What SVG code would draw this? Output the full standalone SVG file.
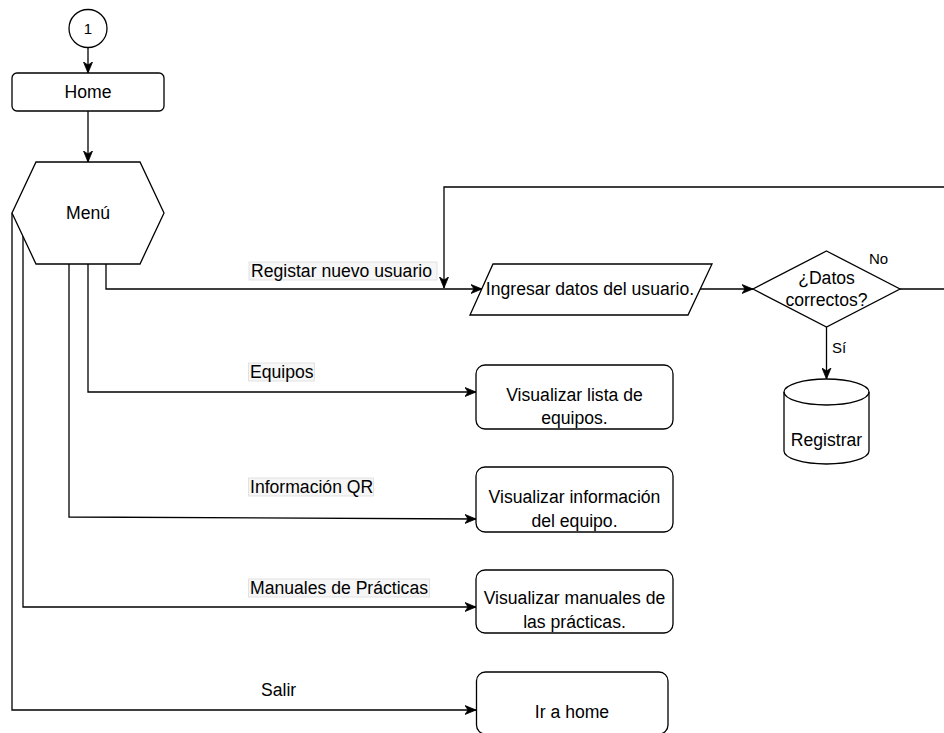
<svg xmlns="http://www.w3.org/2000/svg" width="944" height="733" viewBox="0 0 944 733">
  <style>
    .shape { fill: #ffffff; stroke: #000000; stroke-width: 1.3; }
    .edge { fill: none; stroke: #000000; stroke-width: 1.3; }
    .t { font-family: "Liberation Sans", Arial, sans-serif; font-size: 17.6px; fill: #000000; dominant-baseline: central; }
    .c { text-anchor: middle; }
    .small { font-size: 15px; }
    .lblbg { fill: #f6f6f6; stroke: #dcdcdc; stroke-width: 0.8; }
  </style>
  <defs>
    <marker id="arrow" markerUnits="userSpaceOnUse" markerWidth="12" markerHeight="10" refX="11" refY="5" orient="auto">
      <path d="M0,0.5 L11,5 L0,9.5 L3,5 Z" fill="#000000" stroke="#000000" stroke-width="0.8"/>
    </marker>
  </defs>

  <!-- connectors -->
  <g id="connectors">
    <path class="edge" d="M88,47.5 V73" marker-end="url(#arrow)"/>
    <path class="edge" d="M88,111 V162" marker-end="url(#arrow)"/>
    <path class="edge" d="M106,264 V289 H482" marker-end="url(#arrow)"/>
    <path class="edge" d="M900,289 H960 V187 H444 V288" marker-end="url(#arrow)"/>
    <path class="edge" d="M700,289 H753" marker-end="url(#arrow)"/>
    <path class="edge" d="M826.5,327 V379" marker-end="url(#arrow)"/>
    <path class="edge" d="M88,264 V392 H476" marker-end="url(#arrow)"/>
    <path class="edge" d="M69,264 V517 L476,519" marker-end="url(#arrow)"/>
    <path class="edge" d="M23,234 V607 H476" marker-end="url(#arrow)"/>
    <path class="edge" d="M12,213 V710 H476" marker-end="url(#arrow)"/>

    <!-- edge labels -->
    <rect class="lblbg" x="249" y="262" width="188" height="18"/>
    <text class="t" x="251" y="271">Registar nuevo usuario</text>
    <rect class="lblbg" x="248.5" y="363" width="66" height="18"/>
    <text class="t" x="250" y="372">Equipos</text>
    <rect class="lblbg" x="248.5" y="478" width="125" height="18"/>
    <text class="t" x="250" y="487">Información QR</text>
    <rect class="lblbg" x="248.5" y="579" width="181" height="18"/>
    <text class="t" x="250" y="588">Manuales de Prácticas</text>
    <text class="t" x="261" y="690">Salir</text>
    <text class="t small" x="869" y="258">No</text>
    <text class="t small" x="832" y="347">Sí</text>
  </g>

  <g id="start">
    <circle class="shape" cx="88" cy="28.5" r="19"/>
    <text class="t c small" x="88" y="28.5">1</text>
  </g>

  <g id="home">
    <rect class="shape" x="12" y="73" width="152" height="38" rx="5"/>
    <text class="t c" x="88" y="92">Home</text>
  </g>

  <g id="menu">
    <polygon class="shape" points="36,162 140,162 164,213 140,264 36,264 12,213"/>
    <text class="t c" x="88" y="213">Menú</text>
  </g>

  <g id="ingresar">
    <polygon class="shape" points="493,264 712,264 688,315 470,315"/>
    <text class="t c" x="590" y="289">Ingresar datos del usuario.</text>
  </g>

  <g id="decision">
    <polygon class="shape" points="826.5,251 900,289 826.5,327 753,289"/>
    <text class="t c" x="826.5" y="278">¿Datos</text>
    <text class="t c" x="826.5" y="300">correctos?</text>
  </g>

  <g id="registrar">
    <path class="shape" d="M784,392 A42.5,13 0 0 1 869,392 V451 A42.5,13 0 0 1 784,451 Z"/>
    <path class="edge" d="M784,392 A42.5,13 0 0 0 869,392"/>
    <text class="t c" x="826.5" y="440">Registrar</text>
  </g>

  <g id="lista-equipos">
    <rect class="shape" x="476" y="365" width="197" height="64" rx="9"/>
    <text class="t c" x="574.5" y="395">Visualizar lista de</text>
    <text class="t c" x="574.5" y="418">equipos.</text>
  </g>

  <g id="info-equipo">
    <rect class="shape" x="476" y="467" width="197" height="65" rx="9"/>
    <text class="t c" x="574.5" y="497">Visualizar información</text>
    <text class="t c" x="574.5" y="521">del equipo.</text>
  </g>

  <g id="manuales">
    <rect class="shape" x="476" y="570" width="197" height="63" rx="9"/>
    <text class="t c" x="574.5" y="598">Visualizar manuales de</text>
    <text class="t c" x="574.5" y="622">las prácticas.</text>
  </g>

  <g id="ir-home">
    <rect class="shape" x="476.5" y="672" width="191.5" height="62" rx="9"/>
    <text class="t c" x="572" y="712">Ir a home</text>
  </g>
</svg>
